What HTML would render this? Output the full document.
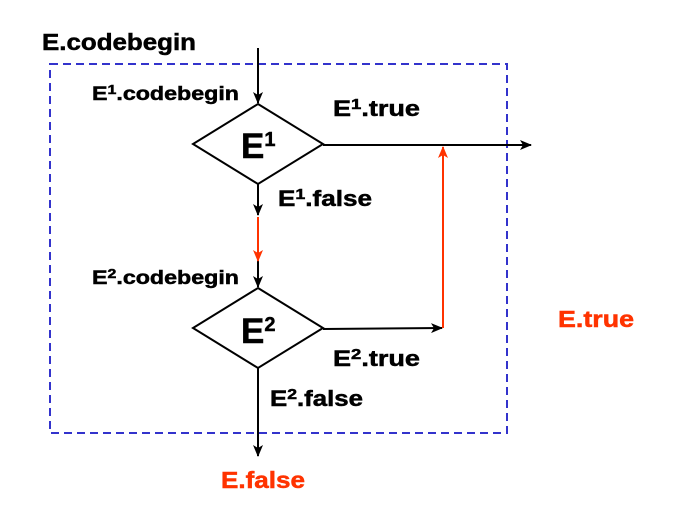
<!DOCTYPE html>
<html><head><meta charset="utf-8"><style>
html,body{margin:0;padding:0;background:#fff;}
svg{display:block;}
text{font-family:"Liberation Sans",sans-serif;font-weight:bold;stroke-width:0.5;}
</style></head><body>
<svg width="673" height="511" viewBox="0 0 673 511" xmlns="http://www.w3.org/2000/svg">
<defs>
<marker id="ab" markerWidth="12" markerHeight="10" refX="11" refY="5" orient="auto" markerUnits="userSpaceOnUse"><path d="M0,0 L12,5 L0,10 L3,5 z" fill="#000"/></marker>
<marker id="ar" markerWidth="12" markerHeight="10" refX="11" refY="5" orient="auto" markerUnits="userSpaceOnUse"><path d="M0,0 L12,5 L0,10 L3,5 z" fill="#ff3300"/></marker>
</defs>
<rect x="50" y="64" width="457" height="369" fill="none" stroke="#3333cc" stroke-width="2" stroke-dasharray="8,5"/>
<g stroke="#000" stroke-width="2" fill="none">
<line x1="258" y1="48" x2="258" y2="103" marker-end="url(#ab)"/>
<polygon points="258,104 323,144 258,184 193,144" fill="#fff"/>
<polygon points="258,288 323,328 258,368 193,328" fill="#fff"/>
<line x1="258" y1="184" x2="258" y2="215" marker-end="url(#ab)"/>
<line x1="258" y1="242" x2="258" y2="287" marker-end="url(#ab)"/>
<line x1="323" y1="145" x2="531" y2="145" marker-end="url(#ab)"/>
<line x1="323" y1="329" x2="442" y2="328" marker-end="url(#ab)"/>
<line x1="258" y1="368" x2="258" y2="456" marker-end="url(#ab)"/>
</g>
<g stroke="#ff3300" stroke-width="2">
<line x1="258" y1="217" x2="258" y2="261" marker-end="url(#ar)"/>
<line x1="443" y1="328" x2="443" y2="147" marker-end="url(#ar)"/>
</g>
<g stroke="#000">
<text x="42" y="50" font-size="23" textLength="154" lengthAdjust="spacingAndGlyphs">E.codebegin</text>
<text x="92" y="100" font-size="19" textLength="147" lengthAdjust="spacingAndGlyphs">E<tspan font-size="13" dy="-6">1</tspan><tspan dy="6">.codebegin</tspan></text>
<text x="333" y="116" font-size="22" textLength="87" lengthAdjust="spacingAndGlyphs">E<tspan font-size="15" dy="-7">1</tspan><tspan dy="7">.true</tspan></text>
<text x="241" y="158" font-size="35">E<tspan font-size="20" dy="-12">1</tspan></text>
<text x="278" y="206" font-size="22" textLength="94" lengthAdjust="spacingAndGlyphs">E<tspan font-size="15" dy="-7">1</tspan><tspan dy="7">.false</tspan></text>
<text x="92" y="284" font-size="19" textLength="147" lengthAdjust="spacingAndGlyphs">E<tspan font-size="13" dy="-6">2</tspan><tspan dy="6">.codebegin</tspan></text>
<text x="241" y="343" font-size="35">E<tspan font-size="20" dy="-12">2</tspan></text>
<text x="333" y="366" font-size="22" textLength="87" lengthAdjust="spacingAndGlyphs">E<tspan font-size="15" dy="-7">2</tspan><tspan dy="7">.true</tspan></text>
<text x="270" y="406" font-size="22" textLength="93" lengthAdjust="spacingAndGlyphs">E<tspan font-size="15" dy="-7">2</tspan><tspan dy="7">.false</tspan></text>
</g>
<g stroke="#ff3300" fill="#ff3300">
<text x="558" y="327" font-size="23" textLength="76" lengthAdjust="spacingAndGlyphs">E.true</text>
<text x="221" y="488" font-size="23" textLength="84" lengthAdjust="spacingAndGlyphs">E.false</text>
</g>
</svg>
</body></html>
